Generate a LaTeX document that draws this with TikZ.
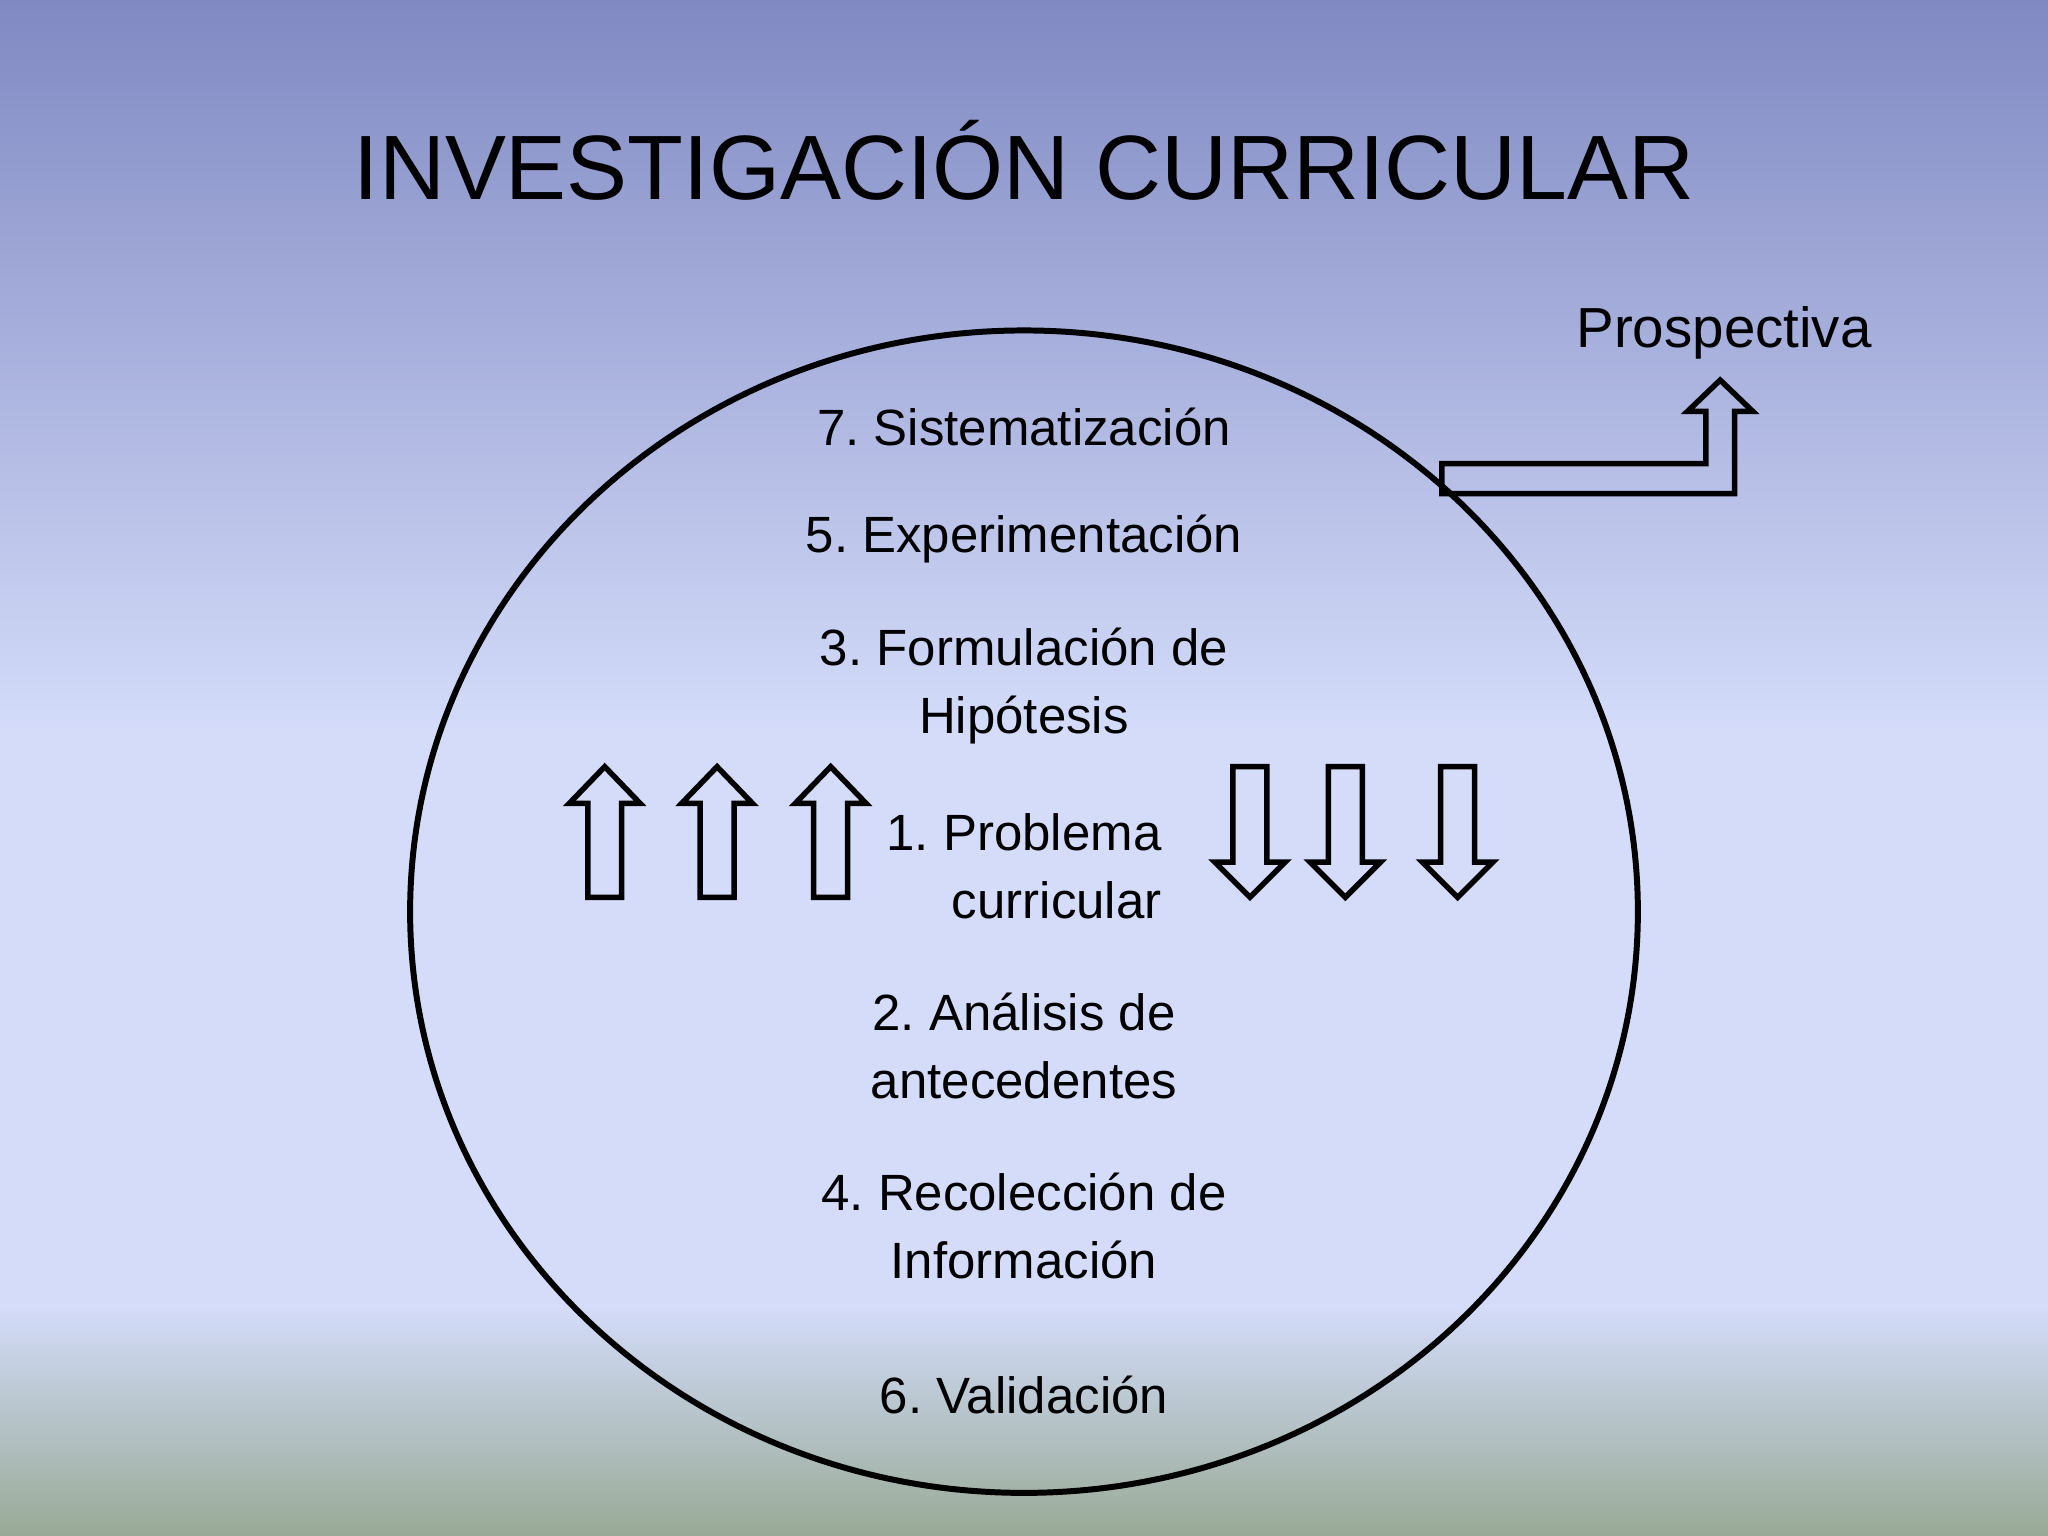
\documentclass[tikz,border=0pt]{standalone}
\usepackage{fontspec}
\setmainfont{Liberation Sans}
\frenchspacing
\begin{document}
\begin{tikzpicture}[x=0.01cm,y=-0.01cm,
  lbl/.style={font=\fontsize{11.1}{14.8}\selectfont,align=center,inner sep=0pt},
  blk/.style={draw=black,line width=1.2pt,fill=none,line join=miter}]
\definecolor{topc}{RGB}{128,137,194}
\definecolor{midc}{RGB}{212,220,250}
\definecolor{botc}{RGB}{152,170,150}
\useasboundingbox (0,0) rectangle (1568,1176);
\shade[top color=topc,bottom color=midc] (0,0) rectangle (1568,560);
\fill[midc] (0,559) rectangle (1568,1000);
\shade[top color=midc,bottom color=botc] (0,999) rectangle (1568,1176);
\node[font=\fontsize{19.9}{24}\selectfont,inner sep=0pt] (title) at (784,123) {INVESTIGACIÓN CURRICULAR};
\draw[line width=1.3pt] (784,698) ellipse [x radius=470,y radius=445];
\node[lbl] (s7) at (784,327) {7. Sistematización};
\node[lbl] (s5) at (784,413) {5. Experimentación};
\node[lbl] (s3) at (784,525) {3. Formulación de\\Hipótesis};
\node[lbl,align=right,anchor=east] (s1) at (890,663) {1. Problema\\curricular};
\node[lbl] (s2) at (784,801) {2. Análisis de\\antecedentes};
\node[lbl] (s4) at (784,939) {4. Recolección de\\Información};
\node[lbl] (s6) at (784,1068) {6. Validación};
\node[lbl,font=\fontsize{12.3}{14.8}\selectfont] (pro) at (1320,255) {Prospectiva};
\foreach \x in {463,549,636}{
  \draw[blk] (\x-13,687) -- (\x-13,615) -- (\x-27,615) -- (\x,587) -- (\x+27,615) -- (\x+13,615) -- (\x+13,687) -- cycle;}
\foreach \x in {957,1030,1116}{
  \draw[blk] (\x-13,587) -- (\x-13,660) -- (\x-27,660) -- (\x,687) -- (\x+27,660) -- (\x+13,660) -- (\x+13,587) -- cycle;}
\draw[blk] (1104,355) -- (1306,355) -- (1306,315) -- (1292,315) -- (1317,291) -- (1342,315) -- (1328,315) -- (1328,378) -- (1104,378) -- cycle;
\end{tikzpicture}
\end{document}
